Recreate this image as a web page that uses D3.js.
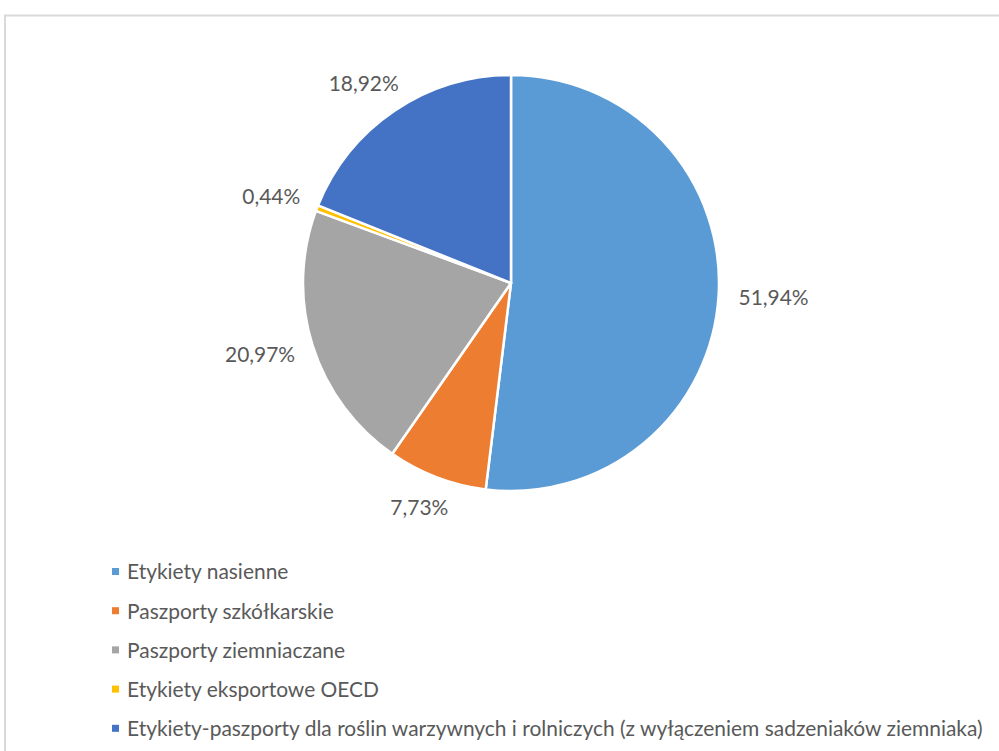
<!DOCTYPE html>
<html><head><meta charset="utf-8">
<script src="https://cdn.jsdelivr.net/npm/d3@7"></script>
<style>body{margin:0;background:#fff}svg{display:block}</style>
</head><body><svg id="c" width="999" height="751"></svg>
<script>
const categories = ["Etykiety nasienne","Paszporty szkółkarskie","Paszporty ziemniaczane","Etykiety eksportowe OECD","Etykiety-paszporty dla roślin warzywnych i rolniczych (z wyłączeniem sadzeniaków ziemniaka)"];
const values = [51.94, 7.73, 20.97, 0.44, 18.92];
const labels = ["51,94%","7,73%","20,97%","0,44%","18,92%"];
const colors = ["#5B9BD5","#ED7D31","#A5A5A5","#FFC000","#4472C4"];

const svg = d3.select("#c");
const font = "Lato, 'Open Sans', sans-serif";
// chart border
svg.append("path").attr("d","M5,751 V15.5 H999").attr("fill","none").attr("stroke","#d9d9d9").attr("stroke-width",2);

const cx = 511, cy = 283, r = 208;
const g = svg.append("g").attr("transform",`translate(${cx},${cy})`);
const pie = d3.pie().sort(null).value(d=>d);
const arcs = pie(values);
const arc = d3.arc().innerRadius(0).outerRadius(r);
g.selectAll("path.s").data(arcs).enter().append("path").attr("class","s")
  .attr("d",arc).attr("fill",(d,i)=>colors[i]).attr("stroke","#fff").attr("stroke-width",2.5).attr("stroke-linejoin","round");

// legend first to measure font size
const legend = svg.append("g");
const rows = legend.selectAll("g").data(categories).enter().append("g")
  .attr("transform",(d,i)=>`translate(112,${572 + i*39.2})`);
rows.append("rect").attr("x",0).attr("y",-4).attr("width",7).attr("height",7).attr("fill",(d,i)=>colors[i]);
const lt = rows.append("text").attr("x",15).attr("y",0).attr("dy","0.35em").attr("fill","#595959")
  .style("font-family",font).style("font-size","16px").text(d=>d);
// fit font size so the longest line matches the reference width
const longest = lt.filter((d,i)=>i===4).node();
const w16 = longest.getComputedTextLength();
const fs = Math.max(12, Math.min(22, 16*856/w16));
lt.style("font-size",fs+"px");

// data labels
const lab = g.selectAll("text.l").data(arcs).enter().append("text").attr("class","l")
  .attr("fill","#595959").style("font-family",font).style("font-size",fs+"px")
  .attr("text-anchor","middle").attr("dy","0.35em").text((d,i)=>labels[i]);
lab.each(function(d){
  const a = (d.startAngle+d.endAngle)/2;
  const ux = Math.sin(a), uy = -Math.cos(a);
  const bb = this.getBBox();
  const rr = r + 20;
  const x = ux*rr + ux*bb.width/2;
  const y = uy*rr + uy*bb.height/2;
  d3.select(this).attr("x",x).attr("y",y);
});
</script></body></html>
